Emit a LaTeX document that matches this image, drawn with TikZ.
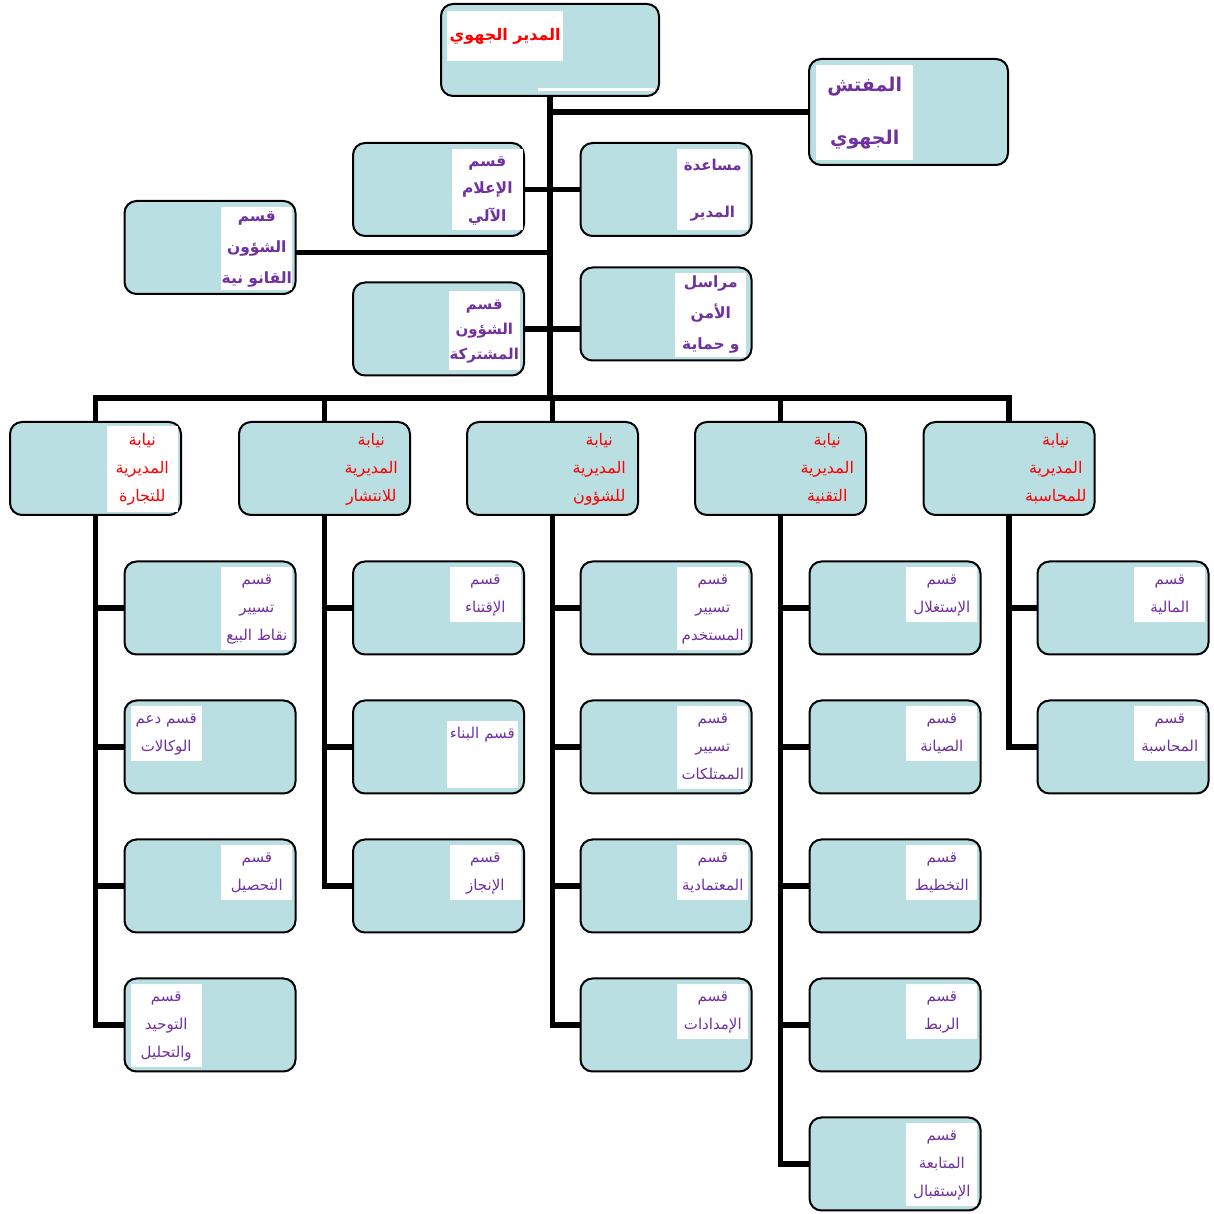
\documentclass[tikz,border=0pt]{standalone}
\usepackage{fontspec}
\newfontfamily\arabicfont[Script=Arabic]{DejaVu Sans}
\TeXXeTstate=1
\definecolor{boxfill}{RGB}{185,223,227}
\definecolor{secpurple}{RGB}{112,48,160}
% one right-to-left line with a fixed strut
\newcommand{\arline}[1]{\mbox{\rule[-0.36em]{0pt}{1.26em}\beginR #1\endR}}
\tikzset{
  box/.style={draw=black,line width=2bp,fill=boxfill,rounded corners=12bp,
    minimum width=171bp,minimum height=93bp,inner sep=0pt,outer sep=0pt},
  link/.style={line width=5.5bp},
  tag/.style={fill=white,align=center,inner xsep=0pt,inner ysep=4.3bp,text width=#1},
  tag/.default=71bp,
  sectag/.style={tag,anchor=north east,text=secpurple,
    font=\arabicfont\fontsize{15bp}{28bp}\selectfont},
  deptag/.style={tag,anchor=north east,fill=none,inner ysep=4.6bp,text=red,
    font=\arabicfont\fontsize{16bp}{28bp}\selectfont},
  headtag/.style={tag,anchor=north east,text=secpurple},
}
\begin{document}
\begin{tikzpicture}
\useasboundingbox (0bp,0bp) rectangle (1214bp,1214bp);
\fill[white] (0bp,0bp) rectangle (1214bp,1214bp);
%% direction
\node (dir) at (550bp,1164bp) [box,minimum width=218bp,minimum height=92bp] {};
\node (dir-t) at ([shift={(6bp,-7bp)}]dir.north west) [tag=116bp,anchor=north west,inner ysep=14.9bp,text=red,
  font=\arabicfont\bfseries\fontsize{16bp}{26bp}\selectfont] {\arline{المدير الجهوي}};
\fill[white] ([shift={(-4bp,5bp)}]dir.south east) rectangle ++(-117bp,3bp);
\node (insp) at (908.5bp,1102bp) [box,minimum width=199bp,minimum height=106bp] {};
\node (insp-t) at ([shift={(7bp,-6bp)}]insp.north west) [tag=97bp,anchor=north west,inner ysep=9bp,text=secpurple,
  font=\arabicfont\bfseries\fontsize{19bp}{53bp}\selectfont] {\arline{المفتش}\\\arline{الجهوي}};
%% staff units
\node (info) at (438.5bp,1024.5bp) [box] {};
\node (info-t) at ([shift={(-1bp,-6bp)}]info.north east) [headtag=74bp,inner ysep=3.2bp,
  font=\arabicfont\bfseries\fontsize{15.5bp}{27.5bp}\selectfont] {\arline{قسم}\\\arline{الإعلام}\\\arline{الآلي}};
\node (assist) at (666bp,1024.5bp) [box] {};
\node (assist-t) at ([shift={(-3bp,-6bp)}]assist.north east) [headtag,inner ysep=7.5bp,
  font=\arabicfont\bfseries\fontsize{15bp}{47bp}\selectfont] {\arline{مساعدة}\\\arline{المدير}};
\node (legal) at (210bp,966.5bp) [box] {};
\node (legal-t) at ([shift={(-3bp,-6bp)}]legal.north east) [headtag,inner ysep=0.8bp,
  font=\arabicfont\bfseries\fontsize{15.5bp}{31bp}\selectfont] {\arline{قسم}\\\arline{الشؤون}\\\arline{القانو نية}};
\node (common) at (438.5bp,885bp) [box] {};
\node (common-t) at ([shift={(-4bp,-8bp)}]common.north east) [headtag=72bp,inner ysep=5bp,
  font=\arabicfont\bfseries\fontsize{15bp}{25bp}\selectfont] {\arline{قسم}\\\arline{الشؤون}\\\arline{المشتركة}};
\node (secu) at (666bp,900bp) [box] {};
\node (secu-t) at ([shift={(-5bp,-5bp)}]secu.north east) [headtag=68bp,inner ysep=1.2bp,
  font=\arabicfont\bfseries\fontsize{15.5bp}{31bp}\selectfont] {\arline{مراسل}\\\arline{الأمن}\\\arline{و حماية}};
%% sub-directorates
\node (dep1) at (95.5bp,745.5bp) [box] {};
\node (dep2) at (324.5bp,745.5bp) [box] {};
\node (dep3) at (552.5bp,745.5bp) [box] {};
\node (dep4) at (780.5bp,745.5bp) [box] {};
\node (dep5) at (1009bp,745.5bp) [box] {};
\node (dep1-t) at ([shift={(-3bp,-4bp)}]dep1.north east) [deptag,fill=white] {\arline{نيابة}\\\arline{المديرية}\\\arline{للتجارة}};
\node (dep2-t) at ([shift={(-3bp,-4bp)}]dep2.north east) [deptag] {\arline{نيابة}\\\arline{المديرية}\\\arline{للانتشار}};
\node (dep3-t) at ([shift={(-3bp,-4bp)}]dep3.north east) [deptag] {\arline{نيابة}\\\arline{المديرية}\\\arline{للشؤون}};
\node (dep4-t) at ([shift={(-3bp,-4bp)}]dep4.north east) [deptag] {\arline{نيابة}\\\arline{المديرية}\\\arline{التقنية}};
\node (dep5-t) at ([shift={(-3bp,-4bp)}]dep5.north east) [deptag] {\arline{نيابة}\\\arline{المديرية}\\\arline{للمحاسبة}};
%% sections
\node (s11) at (210bp,606bp) [box] {};
\node (s12) at (210bp,467bp) [box] {};
\node (s13) at (210bp,328bp) [box] {};
\node (s14) at (210bp,189bp) [box] {};
\node (s21) at (438.5bp,606bp) [box] {};
\node (s22) at (438.5bp,467bp) [box] {};
\node (s23) at (438.5bp,328bp) [box] {};
\node (s31) at (666bp,606bp) [box] {};
\node (s32) at (666bp,467bp) [box] {};
\node (s33) at (666bp,328bp) [box] {};
\node (s34) at (666bp,189bp) [box] {};
\node (s41) at (895bp,606bp) [box] {};
\node (s42) at (895bp,467bp) [box] {};
\node (s43) at (895bp,328bp) [box] {};
\node (s44) at (895bp,189bp) [box] {};
\node (s45) at (895bp,50bp) [box] {};
\node (s51) at (1123bp,606bp) [box] {};
\node (s52) at (1123bp,467bp) [box] {};
\node (s11-t) at ([shift={(-3bp,-5bp)}]s11.north east) [sectag] {\arline{قسم}\\\arline{تسيير}\\\arline{نقاط البيع}};
\node (s12-t) at ([shift={(6bp,-5bp)}]s12.north west) [sectag=68bp,anchor=north west] {\arline{قسم دعم}\\\arline{الوكالات}};
\node (s13-t) at ([shift={(-3bp,-5bp)}]s13.north east) [sectag] {\arline{قسم}\\\arline{التحصيل}};
\node (s14-t) at ([shift={(6bp,-5bp)}]s14.north west) [sectag=68bp,anchor=north west] {\arline{قسم}\\\arline{التوحيد}\\\arline{والتحليل}};
\node (s21-t) at ([shift={(-3bp,-5bp)}]s21.north east) [sectag] {\arline{قسم}\\\arline{الإقتناء}};
\node (s22-t) at ([shift={(-6bp,-20bp)}]s22.north east) [sectag=69bp,text depth=45bp] {\arline{قسم البناء}};
\node (s23-t) at ([shift={(-3bp,-5bp)}]s23.north east) [sectag] {\arline{قسم}\\\arline{الإنجاز}};
\node (s31-t) at ([shift={(-3bp,-5bp)}]s31.north east) [sectag] {\arline{قسم}\\\arline{تسيير}\\\arline{المستخدم}};
\node (s32-t) at ([shift={(-3bp,-5bp)}]s32.north east) [sectag] {\arline{قسم}\\\arline{تسيير}\\\arline{الممتلكات}};
\node (s33-t) at ([shift={(-3bp,-5bp)}]s33.north east) [sectag] {\arline{قسم}\\\arline{المعتمادية}};
\node (s34-t) at ([shift={(-3bp,-5bp)}]s34.north east) [sectag] {\arline{قسم}\\\arline{الإمدادات}};
\node (s41-t) at ([shift={(-3bp,-5bp)}]s41.north east) [sectag] {\arline{قسم}\\\arline{الإستغلال}};
\node (s42-t) at ([shift={(-3bp,-5bp)}]s42.north east) [sectag] {\arline{قسم}\\\arline{الصيانة}};
\node (s43-t) at ([shift={(-3bp,-5bp)}]s43.north east) [sectag] {\arline{قسم}\\\arline{التخطيط}};
\node (s44-t) at ([shift={(-3bp,-5bp)}]s44.north east) [sectag] {\arline{قسم}\\\arline{الربط}};
\node (s45-t) at ([shift={(-3bp,-5bp)}]s45.north east) [sectag] {\arline{قسم}\\\arline{المتابعة}\\\arline{الإستقبال}};
\node (s51-t) at ([shift={(-3bp,-5bp)}]s51.north east) [sectag] {\arline{قسم}\\\arline{المالية}};
\node (s52-t) at ([shift={(-3bp,-5bp)}]s52.north east) [sectag] {\arline{قسم}\\\arline{المحاسبة}};
%% links
\coordinate (bus) at (550bp,816bp);
\draw [link] (dir.south) -- (bus);
\draw [link] (insp.west) -- (insp.west -| bus);
\draw [link] (info.east) -- (assist.west);
\draw [link] ([yshift=-5bp]legal.east) -- ([yshift=-5bp]legal.east -| bus);
\draw [link] (common.east) -- (common.east -| secu.west);
\draw [link] (dep1.north) |- (bus) -| (dep5.north);
\foreach \d in {dep2,dep3,dep4}
  \draw [link] (\d.north) -- (\d.north |- bus);
\foreach \c/\n in {1/4,2/3,3/4,4/5,5/2} {
  \draw [link] (dep\c.south) |- (s\c\n.west);
  \foreach \r in {1,...,\n}
    \draw [link] (s\c\r.west) -- (s\c\r.west -| dep\c.south);
}
%
\end{tikzpicture}
\end{document}
